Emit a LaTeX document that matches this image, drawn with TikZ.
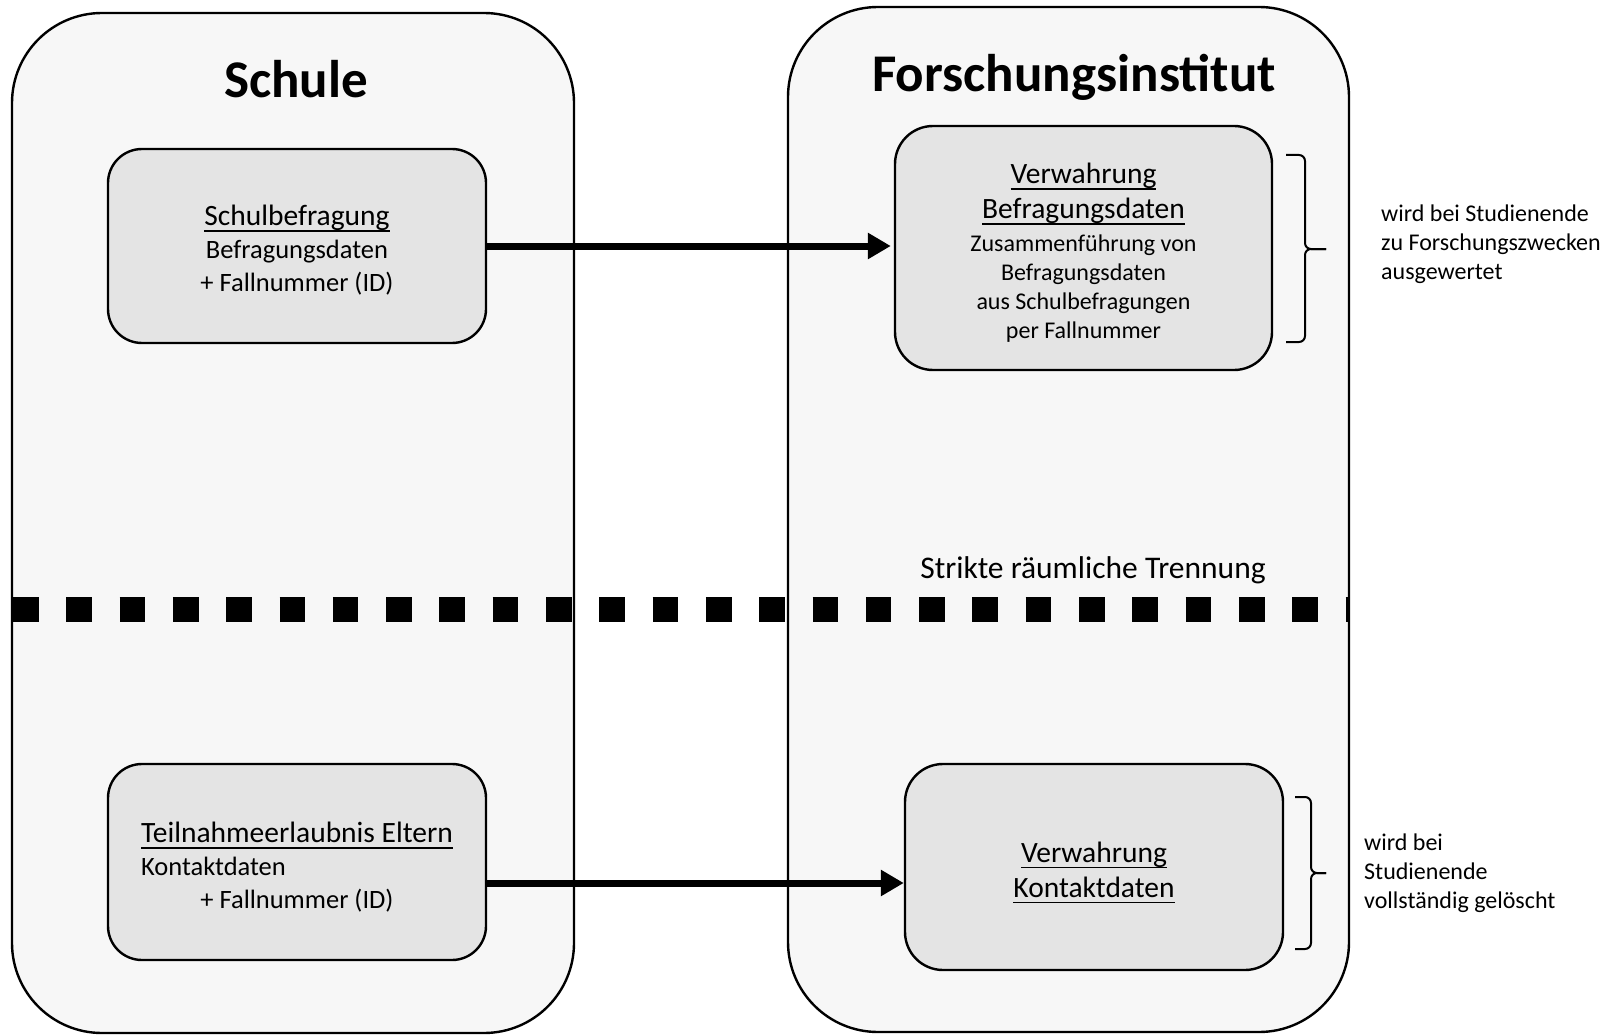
\documentclass[tikz,border=0pt]{standalone}
\usepackage{fontspec}
\setmainfont{Carlito}
\usetikzlibrary{arrows.meta}
\definecolor{contfill}{HTML}{F7F7F7}
\definecolor{boxfill}{HTML}{E4E4E4}
\newcommand{\uln}[1]{\setbox0=\hbox{#1}\rlap{\rule[-0.22em]{\wd0}{0.065em}}\box0}
\newcommand{\hdfont}{\fontsize{29.5}{35}\selectfont}
\newcommand{\lowered}[2]{\raisebox{-#1}[\height][\depth]{\begin{tabular}{@{}c@{}}#2\end{tabular}}}
\begin{document}
\begin{tikzpicture}[x=1pt,y=-1pt,
 container/.style={draw=black, line width=2.4pt, fill=contfill, rounded corners=90pt, inner sep=0pt},
 databox/.style={draw=black, line width=2.4pt, fill=boxfill, rounded corners=34pt, inner sep=0pt, align=center, font=\fontsize{26.5}{33}\selectfont},
 flow/.style={line width=7pt, -{Triangle[length=23pt,width=25pt]}},
 bracket/.style={line width=2pt, rounded corners=6pt},
 title/.style={font=\fontsize{53}{60}\selectfont\bfseries, anchor=base, inner sep=0pt},
 note/.style={font=\fontsize{24}{29}\selectfont, align=left, anchor=west, inner sep=0pt},
 separator/.style={line width=25pt, dash pattern=on 25.6pt off 27.7pt}
]
\useasboundingbox (0,0) rectangle (1606,1035);
\node[container, minimum width=562pt, minimum height=1020pt] (schule) at (293,523) {};
\node[container, minimum width=561pt, minimum height=1025pt] (institut) at (1068.5,519.5) {};
\node[title] (schuleT) at (296,98) {Schule};
\node[title] (instT) at (1074,92) {Forschungsinstitut};

\node[databox, minimum width=378pt, minimum height=194pt] (befr) at (297,246)
 {\lowered{6pt}{{\hdfont\uln{Schulbefragung}}\\Befragungsdaten\\+ Fallnummer (ID)}};
\node[databox, rounded corners=38pt, minimum width=377pt, minimum height=244pt, font=\fontsize{24}{29}\selectfont] (verwB) at (1083.5,248)
 {\lowered{7pt}{{\hdfont\uln{Verwahrung}}\\[6pt]{\hdfont\uln{Befragungsdaten}}\\[4pt]Zusammenführung von\\Befragungsdaten\\aus Schulbefragungen\\per Fallnummer}};
\node[databox, minimum width=378pt, minimum height=196pt] (eltern) at (297,862)
 {\lowered{7pt}{{\hdfont\uln{Teilnahmeerlaubnis Eltern}}\\ \multicolumn{1}{@{}l@{}}{Kontaktdaten}\\ + Fallnummer (ID)}};
\node[databox, rounded corners=38pt, minimum width=378pt, minimum height=206pt, font=\hdfont] (verwK) at (1094,867)
 {\lowered{5.5pt}{\uln{Verwahrung}\\\uln{Kontaktdaten}}};

\draw[flow, shorten >=3pt] (befr.east) -- (befr.east -| verwB.west);
\draw[flow] ([yshift=-21pt]eltern.east) -- ([yshift=-21pt]eltern.east -| verwK.west);

\coordinate (sepL) at (13,609);
\coordinate (sepR) at (1349,609);
\draw[separator] (sepL) -- (sepR);
\node[font=\fontsize{31.5}{36}\selectfont, anchor=base, inner sep=0pt] (trenn) at (1093,578) {Strikte räumliche Trennung};

\draw[bracket] (1286,155) -- (1305,155) -- (1305,249) -- (1326,249);
\draw[bracket] (1286,342) -- (1305,342) -- (1305,249) -- (1326,249);
\draw[bracket] (1295,797) -- (1311,797) -- (1311,873) -- (1326,873);
\draw[bracket] (1295,949) -- (1311,949) -- (1311,873) -- (1326,873);

\node[note] (noteA) at (1381,244) {wird bei Studienende\\zu Forschungszwecken\\ausgewertet};
\node[note] (noteB) at (1364,873) {wird bei\\Studienende\\vollständig gelöscht};
\end{tikzpicture}
\end{document}
